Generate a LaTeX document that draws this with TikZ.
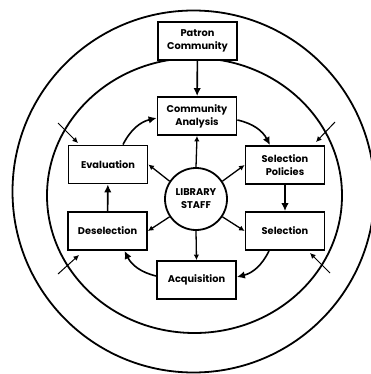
\documentclass[tikz,border=0pt]{standalone}
\usepackage{fontspec}
\setmainfont{Poppins}
\usetikzlibrary{arrows.meta}

\begin{document}
\begin{tikzpicture}[x=1pt,y=-1pt,
    box/.style={draw,line width=1.8pt,fill=white,minimum width=79pt,minimum height=38pt,
        align=center,inner sep=2pt,font=\bfseries\fontsize{9.8}{13}\selectfont},
    hub/.style={draw,circle,line width=1.8pt,fill=white,minimum size=62pt,inner sep=0pt,
        align=center,font=\bfseries\fontsize{9.8}{13}\selectfont},
    flow/.style={line width=1.6pt,-{Latex[length=8pt,width=7.5pt]}},
    spoke/.style={line width=1.3pt,-{Latex[length=5.5pt,width=5.5pt]}},
    hint/.style={line width=1pt,-{Latex[length=5.5pt,width=5.5pt]}}]
    \useasboundingbox (0,0) rectangle (370,374);
    \draw[line width=1.8pt] (193.5,191.5) circle[radius=181pt];
    \draw[line width=1.8pt] (194.5,195.5) ellipse[x radius=147.5pt,y radius=137.5pt];
    \node[box] (patron) at (197.5,41) {Patron\\Community};
    \node[box] (ca) at (197,116) {Community\\Analysis};
    \node[box] (sp) at (285,165) {Selection\\Policies};
    \node[box] (sel) at (285,231) {Selection};
    \node[box] (acq) at (196.5,280) {Acquisition};
    \node[box] (des) at (107.5,231) {Deselection};
    \node[box] (eval) at (108,164.5) {Evaluation};
    \node[hub] (staff) at (196,199) {LIBRARY\\STAFF};
    \draw[flow] (patron) -- (ca);
    \draw[flow] ([yshift=-4pt]ca.east) to[bend left=25] ([xshift=-15pt]sp.north);
    \draw[flow] (sp) -- (sel);
    \draw[flow] ([xshift=-16pt]sel.south) to[bend left=25] ([yshift=3pt]acq.east);
    \draw[flow] ([yshift=4pt]acq.west) to[bend left=25] ([xshift=17pt]des.south);
    \draw[flow] (des) -- (eval);
    \draw[flow] ([xshift=15pt]eval.north) to[bend left=25] ([yshift=-2pt]ca.west);
    \draw[spoke] (staff.north) -- (ca.south);
    \draw[spoke] (staff.34) -- (sp.west);
    \draw[spoke] (staff.326) -- (sel.west);
    \draw[spoke] (staff.south) -- (acq.north);
    \draw[spoke] (staff.214) -- (des.east);
    \draw[spoke] (staff.146) -- (eval.east);
    \coordinate (tl1) at (58,123); \coordinate (tl2) at (78,143);
    \coordinate (tr1) at (335,122); \coordinate (tr2) at (316,142);
    \coordinate (bl1) at (58,274); \coordinate (bl2) at (79,255);
    \coordinate (br1) at (330,273); \coordinate (br2) at (310,253);
    \draw[hint] (tl1) -- (tl2);
    \draw[hint] (tr1) -- (tr2);
    \draw[hint] (bl1) -- (bl2);
    \draw[hint] (br1) -- (br2);
\end{tikzpicture}
\end{document}
